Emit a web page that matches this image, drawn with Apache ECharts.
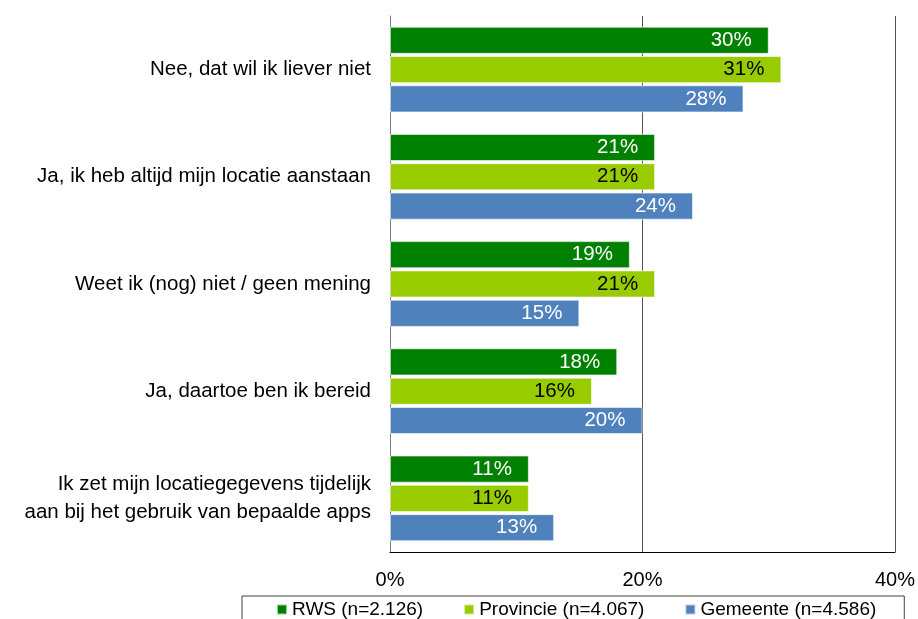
<!DOCTYPE html>
<html>
<head>
<meta charset="utf-8">
<script src="https://cdn.jsdelivr.net/npm/echarts@6/dist/echarts.min.js"></script>
<style>
  html, body { margin: 0; padding: 0; background: #fff; }
  #chart { width: 918px; height: 619px; }
</style>
</head>
<body>
<div id="chart"></div>
<script>
const categories = [
    "Nee, dat wil ik liever niet",
    "Ja, ik heb altijd mijn locatie aanstaan",
    "Weet ik (nog) niet / geen mening",
    "Ja, daartoe ben ik bereid",
    "Ik zet mijn locatiegegevens tijdelijk\naan bij het gebruik van bepaalde apps"
]
const rws = [30, 21, 19, 18, 11]
const provincie = [31, 21, 21, 16, 11]
const gemeente = [28, 24, 15, 20, 13]
const seriesNames = ["RWS (n=2.126)", "Provincie (n=4.067)", "Gemeente (n=4.586)"]
const seriesColors = ["#008000", "#99CC00", "#4F81BD"]
const labelColors = ["#ffffff", "#000000", "#ffffff"]

const font = "Liberation Sans, Arial, sans-serif"

const chart = echarts.init(document.getElementById("chart"), null, { renderer: "canvas" })

const makeSeries = (name, data, i) => ({
    name: name,
    type: "bar",
    data: data,
    barCategoryGap: "20%",
    barGap: "8%",
    itemStyle: { color: seriesColors[i], borderColor: "rgba(255,255,255,0.6)", borderWidth: 1 },
    label: {
        show: true,
        position: "insideRight",
        distance: 17,
        formatter: "{c}%",
        color: labelColors[i],
        fontFamily: font,
        fontSize: 20.5
    },
    emphasis: { disabled: true },
    animation: false
})

chart.setOption({
    backgroundColor: "#ffffff",
    animation: false,
    grid: { left: 390, right: 17, top: 16, bottom: 67, containLabel: false },
    legend: {
        left: 242,
        top: 596,
        itemWidth: 10,
        itemHeight: 10,
        itemGap: 40,
        icon: "rect",
        borderColor: "#404040",
        borderWidth: 1,
        padding: [4, 28, 12, 34],
        textStyle: { fontFamily: font, fontSize: 19, color: "#000" },
        data: seriesNames
    },
    xAxis: {
        type: "value",
        min: 0,
        max: 40,
        interval: 20,
        axisLine: { show: true, lineStyle: { color: "#000", width: 1 } },
        axisTick: { show: false },
        splitLine: { show: true, lineStyle: { color: "#555", width: 1 } },
        axisLabel: {
            formatter: "{value}%",
            fontFamily: font,
            fontSize: 20,
            color: "#000",
            margin: 18
        }
    },
    yAxis: {
        type: "category",
        data: categories,
        inverse: true,
        axisLine: { show: true, lineStyle: { color: "#808080", width: 1 } },
        axisTick: { show: false },
        axisLabel: {
            fontFamily: font,
            fontSize: 20.5,
            color: "#000",
            margin: 19,
            align: "right",
            lineHeight: 28
        }
    },
    series: [
        makeSeries(seriesNames[0], rws, 0),
        makeSeries(seriesNames[1], provincie, 1),
        makeSeries(seriesNames[2], gemeente, 2)
    ]
})
</script>
</body>
</html>
